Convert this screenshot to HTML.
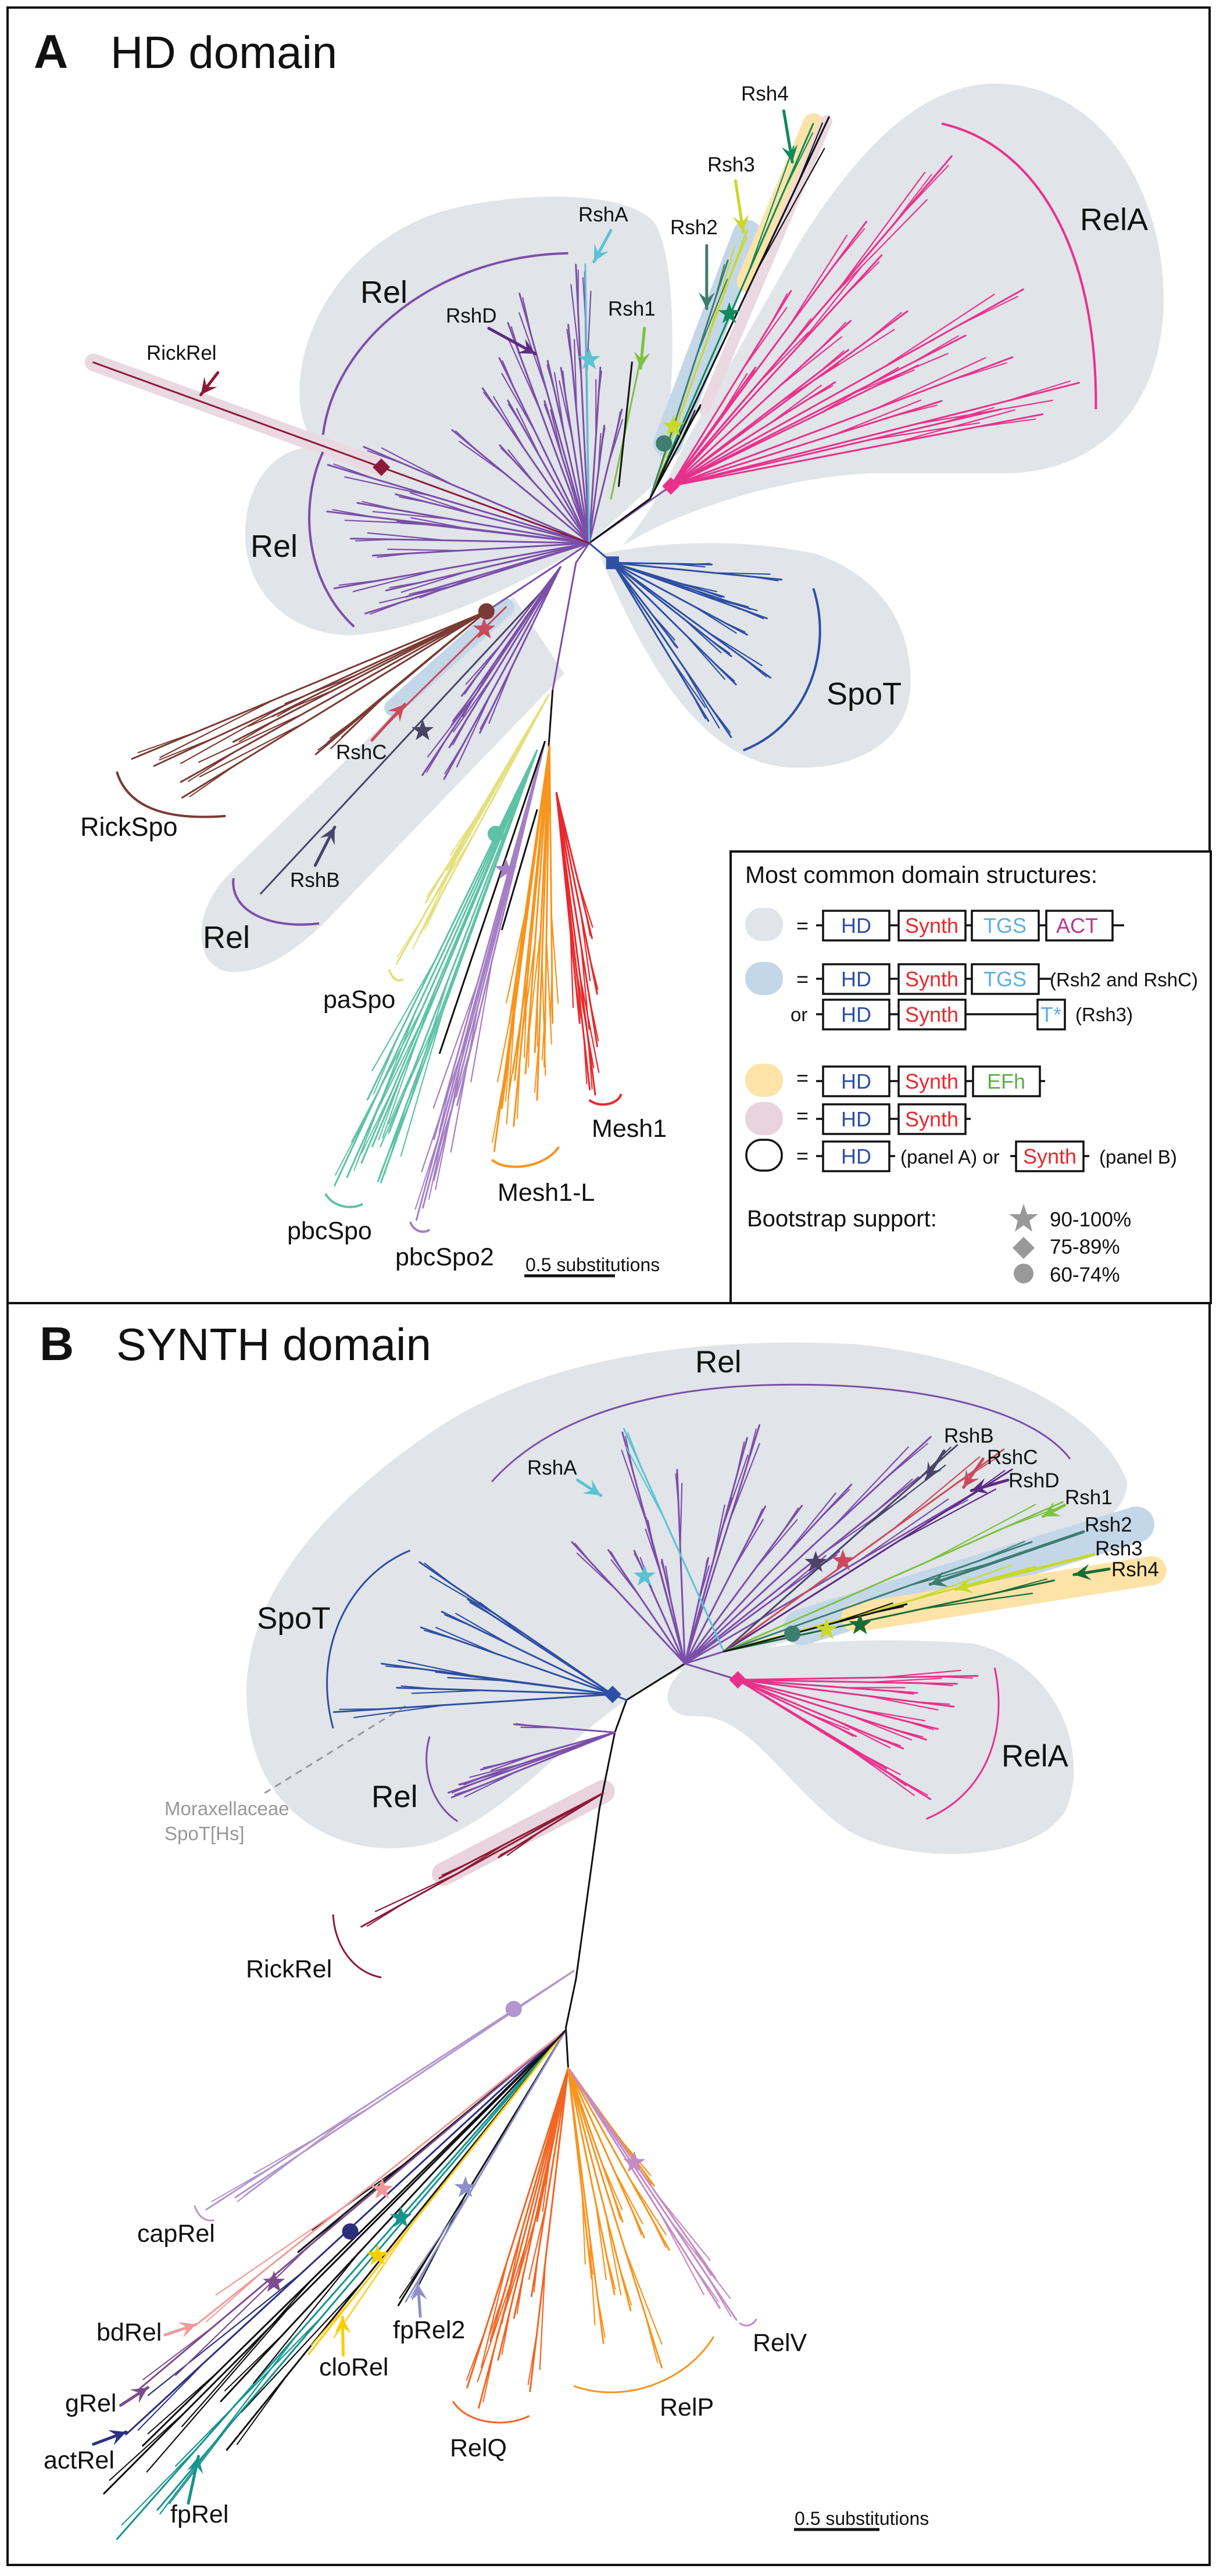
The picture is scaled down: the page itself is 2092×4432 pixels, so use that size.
<!DOCTYPE html>
<html><head><meta charset="utf-8"><title>HD and SYNTH domain trees</title>
<style>
html,body{margin:0;padding:0;background:#fff;}
svg{display:block;font-family:"Liberation Sans",Arial,sans-serif;}
</style></head>
<body>
<svg id="fig" xmlns="http://www.w3.org/2000/svg" width="2092" height="4432" viewBox="0 0 2092 4432">
<rect x="0" y="0" width="2092" height="4432" fill="#fff"/>
<!-- borders -->
<rect x="13" y="13" width="2068" height="4400" fill="none" stroke="#111" stroke-width="4"/>
<line x1="13" y1="2242" x2="2081" y2="2242" stroke="#111" stroke-width="4"/>

<!-- Panel A shaded backgrounds (zoom coordinates scaled) -->
<g transform="scale(1.339 1.467)">
  <path d="M757,637 L850,560 C870,450 870,300 840,260 C800,220 650,225 560,250 C450,285 380,380 385,470 C388,500 400,515 410,525 C360,520 318,560 315,620 C312,700 380,745 450,745 C550,740 680,680 757,637 Z" fill="#e1e4e9"/>
  <path d="M800,640 C870,600 1000,560 1120,555 L1300,555 C1420,550 1495,470 1495,350 C1495,230 1420,100 1280,98 C1180,98 1100,180 1030,280 L880,520 C850,580 820,620 800,640 Z" fill="#e1e4e9"/>
  <path d="M770,650 C850,635 950,630 1050,650 C1140,680 1170,740 1170,800 C1170,870 1100,905 1010,900 C900,890 830,780 770,650 Z" fill="#e1e4e9"/>
  <path d="M660,700 L300,1020 C240,1070 250,1140 300,1140 C350,1140 400,1100 440,1060 L725,790 Z" fill="#e1e4e9"/>
  <line x1="120" y1="425" x2="490" y2="548" stroke="#ead9e1" stroke-width="30" stroke-linecap="round" vector-effect="non-scaling-stroke"/>
  <line x1="858" y1="520" x2="960" y2="275" stroke="#c3d7e8" stroke-width="50" stroke-linecap="round" vector-effect="non-scaling-stroke"/>
  <line x1="960" y1="330" x2="1045" y2="145" stroke="#fde3a7" stroke-width="36" stroke-linecap="round" vector-effect="non-scaling-stroke"/>
  <line x1="905" y1="480" x2="1062" y2="142" stroke="#ead9e1" stroke-width="20" stroke-linecap="round" vector-effect="non-scaling-stroke"/>
  <line x1="505" y1="830" x2="650" y2="712" stroke="#c3d7e8" stroke-width="30" stroke-linecap="round" vector-effect="non-scaling-stroke"/>
  <g fill="none" stroke-width="4" vector-effect="non-scaling-stroke">
    <path d="M1210,145 C1330,170 1410,290 1408,480" stroke="#e8318a" vector-effect="non-scaling-stroke"/>
    <path d="M415,510 C430,400 560,300 730,297" stroke="#7b4fa8" vector-effect="non-scaling-stroke"/>
    <path d="M415,530 C385,590 390,680 455,735" stroke="#7b4fa8" vector-effect="non-scaling-stroke"/>
    <path d="M1045,690 C1070,760 1040,850 955,880" stroke="#2e4fa3" vector-effect="non-scaling-stroke"/>
    <path d="M150,905 C165,950 220,962 290,957" stroke="#7a3b34" vector-effect="non-scaling-stroke"/>
    <path d="M300,1030 C295,1070 350,1090 410,1083" stroke="#7b4fa8" vector-effect="non-scaling-stroke"/>
    <path d="M500,1137 C505,1150 512,1152 518,1148" stroke="#e3e07e" vector-effect="non-scaling-stroke"/>
    <path d="M418,1400 C430,1418 455,1418 466,1412" stroke="#5ec2a5" vector-effect="non-scaling-stroke"/>
    <path d="M527,1433 C532,1445 545,1447 552,1442" stroke="#a57fc3" vector-effect="non-scaling-stroke"/>
    <path d="M632,1360 C650,1375 700,1370 718,1345" stroke="#f7941d" vector-effect="non-scaling-stroke"/>
    <path d="M757,1290 C770,1300 795,1295 798,1283" stroke="#e8282c" vector-effect="non-scaling-stroke"/>
  </g>
</g>

<!-- Panel B shaded backgrounds -->
<g transform="translate(0 2250) scale(1.339 1.3916)">
  <path d="M805,485 C720,540 660,620 560,660 C460,690 330,640 318,500 C305,380 390,260 560,150 C700,60 900,35 1100,45 C1300,65 1420,140 1448,215 C1450,250 1400,290 1300,330 L950,430 C900,440 850,450 805,485 Z" fill="#e1e4e9"/>
  <path d="M880,445 C950,415 1100,405 1250,415 C1360,440 1400,550 1370,620 C1330,690 1150,690 1080,640 C1000,580 960,500 890,505 C860,505 840,480 880,445 Z" fill="#e1e4e9"/>
  <line x1="1030" y1="395" x2="1460" y2="268" stroke="#c3d7e8" stroke-width="62" stroke-linecap="round" vector-effect="non-scaling-stroke"/>
  <line x1="1100" y1="383" x2="1480" y2="325" stroke="#fde3a7" stroke-width="50" stroke-linecap="round" vector-effect="non-scaling-stroke"/>
  <line x1="570" y1="700" x2="775" y2="598" stroke="#e9d3dc" stroke-width="40" stroke-linecap="round" vector-effect="non-scaling-stroke"/>
  <line x1="340" y1="600" x2="525" y2="490" stroke="#999" stroke-width="3" stroke-dasharray="12 9" vector-effect="non-scaling-stroke"/>
  <g fill="none">
    <path d="M632,215 C720,120 880,95 1020,95 C1200,95 1330,130 1375,187" stroke="#7b4fa8" stroke-width="3" vector-effect="non-scaling-stroke"/>
    <path d="M527,300 C450,330 400,420 428,520" stroke="#2e4fa3" stroke-width="3" vector-effect="non-scaling-stroke"/>
    <path d="M552,530 C540,570 555,615 588,635" stroke="#7b4fa8" stroke-width="3" vector-effect="non-scaling-stroke"/>
    <path d="M1278,445 C1295,520 1270,600 1190,632" stroke="#e8318a" stroke-width="3" vector-effect="non-scaling-stroke"/>
    <path d="M428,750 C430,790 455,822 490,828" stroke="#8b1a3a" stroke-width="3" vector-effect="non-scaling-stroke"/>
    <path d="M250,1110 C255,1125 265,1130 275,1128" stroke="#b296cd" stroke-width="3" vector-effect="non-scaling-stroke"/>
    <path d="M582,1352 C600,1380 650,1385 680,1370" stroke="#f26522" stroke-width="3" vector-effect="non-scaling-stroke"/>
    <path d="M737,1333 C800,1355 880,1330 917,1272" stroke="#f7941d" stroke-width="3" vector-effect="non-scaling-stroke"/>
    <path d="M950,1255 C960,1262 968,1257 972,1250" stroke="#c58bc2" stroke-width="3" vector-effect="non-scaling-stroke"/>
  </g>
</g>

<g id="tree"></g>
<g id="marks"></g>

<!-- Panel A text -->
<g fill="#111">
  <text x="58" y="117" font-size="82" font-weight="bold">A</text>
  <text x="190" y="117" font-size="78">HD domain</text>
  <text x="1275" y="173" font-size="35">Rsh4</text>
  <text x="1217" y="295" font-size="35">Rsh3</text>
  <text x="1153" y="403" font-size="35">Rsh2</text>
  <text x="995" y="381" font-size="35">RshA</text>
  <text x="620" y="521" font-size="54">Rel</text>
  <text x="767" y="555" font-size="35">RshD</text>
  <text x="1046" y="543" font-size="35">Rsh1</text>
  <text x="1858" y="396" font-size="54">RelA</text>
  <text x="252" y="619" font-size="35">RickRel</text>
  <text x="431" y="958" font-size="54">Rel</text>
  <text x="1422" y="1212" font-size="54">SpoT</text>
  <text x="578" y="1306" font-size="35">RshC</text>
  <text x="138" y="1438" font-size="45">RickSpo</text>
  <text x="499" y="1526" font-size="35">RshB</text>
  <text x="349" y="1631" font-size="54">Rel</text>
  <text x="556" y="1734" font-size="43">paSpo</text>
  <text x="1018" y="1956" font-size="43">Mesh1</text>
  <text x="856" y="2066" font-size="43">Mesh1-L</text>
  <text x="494" y="2132" font-size="43">pbcSpo</text>
  <text x="680" y="2177" font-size="43">pbcSpo2</text>
  <text x="904" y="2187" font-size="32">0.5 substitutions</text>
  <line x1="902" y1="2195" x2="1058" y2="2195" stroke="#111" stroke-width="5"/>
</g>

<!-- Legend -->
<g font-size="36">
  <rect x="1257" y="1465" width="826" height="777" fill="#fff" stroke="#111" stroke-width="4"/>
  <text x="1282" y="1519" font-size="41" fill="#111">Most common domain structures:</text>
  <g stroke="#111" stroke-width="3.5" fill="#fff">
    <rect x="1282" y="1562" width="65" height="57" rx="28" fill="#e1e4e9" stroke="none"/>
    <rect x="1282" y="1655" width="65" height="57" rx="28" fill="#c3d7e8" stroke="none"/>
    <rect x="1282" y="1830" width="65" height="57" rx="28" fill="#fde3a7" stroke="none"/>
    <rect x="1282" y="1896" width="65" height="57" rx="28" fill="#e9d3dc" stroke="none"/>
    <rect x="1284" y="1961" width="61" height="53" rx="26" fill="none"/>
    <!-- row 1 -->
    <line x1="1404" y1="1592" x2="1934" y2="1592"/>
    <rect x="1416" y="1567" width="114" height="51"/>
    <rect x="1546" y="1567" width="115" height="51"/>
    <rect x="1672" y="1567" width="115" height="51"/>
    <rect x="1800" y="1567" width="114" height="51"/>
    <!-- row 2 -->
    <line x1="1404" y1="1684" x2="1808" y2="1684"/>
    <rect x="1416" y="1659" width="114" height="51"/>
    <rect x="1546" y="1659" width="115" height="51"/>
    <rect x="1672" y="1659" width="115" height="51"/>
    <!-- row or -->
    <line x1="1404" y1="1745" x2="1785" y2="1745"/>
    <rect x="1416" y="1720" width="114" height="51"/>
    <rect x="1546" y="1720" width="115" height="51"/>
    <rect x="1785" y="1720" width="47" height="51"/>
    <!-- row 3 -->
    <line x1="1404" y1="1860" x2="1798" y2="1860"/>
    <rect x="1416" y="1835" width="114" height="51"/>
    <rect x="1546" y="1835" width="115" height="51"/>
    <rect x="1674" y="1835" width="115" height="51"/>
    <!-- row 4 -->
    <line x1="1404" y1="1925" x2="1670" y2="1925"/>
    <rect x="1416" y="1900" width="114" height="51"/>
    <rect x="1546" y="1900" width="115" height="51"/>
    <!-- row 5 -->
    <line x1="1404" y1="1989" x2="1540" y2="1989"/>
    <line x1="1738" y1="1989" x2="1874" y2="1989"/>
    <rect x="1416" y="1964" width="114" height="51"/>
    <rect x="1748" y="1964" width="116" height="51"/>
  </g>
  <g font-size="36" fill="#111">
    <text x="1370" y="1605">=</text>
    <text x="1370" y="1697">=</text>
    <text x="1370" y="1867">=</text>
    <text x="1370" y="1932">=</text>
    <text x="1370" y="2001">=</text>
    <text x="1360" y="1757" font-size="33">or</text>
    <text x="1806" y="1697" font-size="33">(Rsh2 and RshC)</text>
    <text x="1850" y="1757" font-size="33">(Rsh3)</text>
    <text x="1549" y="2002" font-size="33">(panel A) or</text>
    <text x="1891" y="2002" font-size="33">(panel B)</text>
  </g>
  <g font-size="36" text-anchor="middle">
    <text x="1473" y="1605" fill="#2e4fa3">HD</text>
    <text x="1603" y="1605" fill="#e8282c">Synth</text>
    <text x="1729" y="1605" fill="#5bb0e0">TGS</text>
    <text x="1853" y="1605" fill="#b8388f">ACT</text>
    <text x="1473" y="1697" fill="#2e4fa3">HD</text>
    <text x="1603" y="1697" fill="#e8282c">Synth</text>
    <text x="1729" y="1697" fill="#5bb0e0">TGS</text>
    <text x="1473" y="1758" fill="#2e4fa3">HD</text>
    <text x="1603" y="1758" fill="#e8282c">Synth</text>
    <text x="1808" y="1758" fill="#5bb0e0">T*</text>
    <text x="1473" y="1873" fill="#2e4fa3">HD</text>
    <text x="1603" y="1873" fill="#e8282c">Synth</text>
    <text x="1731" y="1873" fill="#5ab045">EFh</text>
    <text x="1473" y="1938" fill="#2e4fa3">HD</text>
    <text x="1603" y="1938" fill="#e8282c">Synth</text>
    <text x="1473" y="2002" fill="#2e4fa3">HD</text>
    <text x="1806" y="2002" fill="#e8282c">Synth</text>
  </g>
  <text x="1285" y="2110" font-size="40" fill="#111">Bootstrap support:</text>
  <g font-size="35" fill="#111">
    <text x="1806" y="2110">90-100%</text>
    <text x="1806" y="2157">75-89%</text>
    <text x="1806" y="2205">60-74%</text>
  </g>
  <polygon points="1761,2071 1767,2089 1786,2089 1771,2100 1776,2119 1761,2108 1746,2119 1751,2100 1736,2089 1755,2089" fill="#999"/>
  <polygon points="1761,2128 1780,2147 1761,2166 1742,2147" fill="#999"/>
  <circle cx="1761" cy="2191" r="17" fill="#999"/>
</g>

<!-- Panel B text -->
<g fill="#111">
  <text x="68" y="2340" font-size="82" font-weight="bold">B</text>
  <text x="200" y="2340" font-size="78">SYNTH domain</text>
  <text x="1196" y="2361" font-size="53">Rel</text>
  <text x="907" y="2537" font-size="35">RshA</text>
  <text x="1624" y="2482" font-size="35">RshB</text>
  <text x="1698" y="2519" font-size="35">RshC</text>
  <text x="1735" y="2559" font-size="35">RshD</text>
  <text x="1832" y="2588" font-size="35">Rsh1</text>
  <text x="1866" y="2635" font-size="35">Rsh2</text>
  <text x="1884" y="2676" font-size="35">Rsh3</text>
  <text x="1912" y="2712" font-size="35">Rsh4</text>
  <text x="442" y="2802" font-size="53">SpoT</text>
  <text x="639" y="3109" font-size="53">Rel</text>
  <text x="1723" y="3039" font-size="53">RelA</text>
  <text x="283" y="3123" font-size="33" fill="#999">Moraxellaceae</text>
  <text x="283" y="3166" font-size="33" fill="#999">SpoT[Hs]</text>
  <text x="423" y="3402" font-size="43">RickRel</text>
  <text x="236" y="3857" font-size="43">capRel</text>
  <text x="166" y="4027" font-size="43">bdRel</text>
  <text x="112" y="4149" font-size="43">gRel</text>
  <text x="75" y="4247" font-size="43">actRel</text>
  <text x="293" y="4340" font-size="43">fpRel</text>
  <text x="549" y="4087" font-size="43">cloRel</text>
  <text x="676" y="4023" font-size="43">fpRel2</text>
  <text x="774" y="4226" font-size="43">RelQ</text>
  <text x="1135" y="4156" font-size="43">RelP</text>
  <text x="1295" y="4045" font-size="43">RelV</text>
  <text x="1367" y="4344" font-size="32">0.5 substitutions</text>
  <line x1="1366" y1="4352" x2="1513" y2="4352" stroke="#111" stroke-width="5"/>
</g>

<script>
// ===== Tree data: branch angles (degrees) and branch lengths (substitutions) =====
// Panel A (HD domain)
const relA_A_angles  = [-47,-47,-51,-47,-45,-34,-27,-25,-19,-13,-10,-12,-16,-56,-52,-35,-24,-40,-30];
const relA_A_lengths = [2.28,2.18,1.72,1.17,1.65,1.58,2.19,1.80,2.00,2.32,2.09,1.87,1.56,1.19,0.76,1.20,1.50,1.30,1.05];
const rsh_A_angles   = [-64.5,-62.8,-68.4,-70.3,-59.4];
const rsh_A_lengths  = [2.10,2.17,1.46,1.28,0.55];
const rsh_A_colors   = ['#0e8a5a','#111','#c9d82a','#3e7d70','#111'];
const relTop_A_angles  = [-93,-91,-107,-127,-143,-109,-86,-75,-118,-96,-100,-122,-112,-135,-82,-104];
const relTop_A_lengths = [1.41,1.37,1.32,0.98,0.95,0.76,0.89,0.70,1.06,1.11,0.90,0.85,1.20,0.70,0.60,0.95];
const relLeft_A_angles  = [-173.7,-179,170.8,164,-164.7,177,165,-158.7,-171,-174,168,-167];
const relLeft_A_lengths = [1.46,1.32,1.43,1.29,1.50,1.20,1.05,1.34,1.30,1.07,1.15,1.10];
const spoT_A_angles  = [5.2,0.9,18.2,17,33.6,53.3,56.4,35.7,50,26,15.6,42];
const spoT_A_lengths = [0.94,0.55,0.90,0.80,1.05,1.10,0.96,0.81,0.56,0.83,0.64,0.92];
const rickSpo_A_angles  = [159.2,150.8,142.6,154.8,157,153,143,155.9];
const rickSpo_A_lengths = [2.10,1.93,1.19,1.55,2.00,1.90,1.10,1.30];
const relBot_A_angles  = [121,124,127,130,118,126];
const relBot_A_lengths = [1.25,1.10,1.00,0.85,0.95,1.30];
const paSpo_A_angles  = [121.8,120.5,123,122.5];
const paSpo_A_lengths = [1.60,1.40,1.25,1.05];
const pbcSpo_A_angles  = [117,116,115,114.5,113,112,111.6,118];
const pbcSpo_A_lengths = [2.47,2.40,2.30,2.20,2.10,2.35,2.35,2.00];
const pbcSpo2_A_angles  = [106.4,106,105.5,107,104.8];
const pbcSpo2_A_lengths = [2.52,2.45,2.30,2.10,1.90];
const mesh1L_A_angles  = [98.5,95.9,92.2,98.2,91,94.6,89.3,99,96.5,93];
const mesh1L_A_lengths = [2.07,1.93,1.79,1.85,1.62,1.66,1.40,1.42,1.70,1.55];
const mesh1_A_angles  = [82,77.5,83,83.7,75,80];
const mesh1_A_lengths = [1.54,1.04,1.51,1.17,0.76,1.30];
// Panel B (SYNTH domain)
const relTop_B_angles  = [-105.7,-72,-134,-103,-74,-52.4,-41.6,-37.5,-29.6,-77,-105.5,-74,-35,-92.4,-125,-62,-46,-115];
const relTop_B_lengths = [1.35,1.41,0.95,0.60,0.99,1.12,1.92,1.72,1.93,0.61,0.85,1.32,1.10,1.09,0.78,1.00,1.40,0.70];
const rsh_B_angles  = [-115,-40.4,-34.8,-31.3,-23,-18.9,-14.7,-11.7,-14];
const rsh_B_lengths = [1.38,1.79,1.99,1.97,2.15,1.90,1.88,1.97,1.10];
const rsh_B_colors  = ['#5bc3d3','#4a4468','#c94b5c','#5c2b83','#7cc242','#3e7d70','#c9d82a','#1a6b37','#111'];
const relA_B_angles  = [-0.9,6.8,13.3,30.8,30.7,21.8,1,30,24.7,17,4];
const relA_B_lengths = [1.40,1.27,1.20,1.31,1.17,1.04,1.28,1.00,0.76,1.15,1.05];
const spoT_B_angles  = [-146.6,-172.7,176.5,-161.4,-173,-147.7,-178.3,-155];
const spoT_B_lengths = [1.35,1.36,1.63,1.18,1.04,1.00,1.26,1.10];
const relSmall_B_angles  = [159,162,-175.6,160.8,165];
const relSmall_B_lengths = [1.02,0.95,0.59,1.03,0.81];
const rickRel_B_angles  = [153.4,152,149.4];
const rickRel_B_lengths = [1.07,1.60,0.71];
const capRel_B_angles  = [148,147.2];
const capRel_B_lengths = [2.53,2.35];
const basal_B_angles  = [136,130,122.3,141.4,136.6,138.5,141,142.5,132.5,131.5,129.5,121.5,134];
const basal_B_lengths = [3.75,3.08,1.83,2.00,3.40,3.43,3.22,2.72,3.88,3.60,2.36,1.79,2.90];
const basal_B_colors  = ['#111','#111','#111','#111','#111','#2b2f7e','#7d4c8e','#f29a9a','#16938e','#16938e','#ffcc00','#8e8ec8','#111'];
const relQ_B_angles  = [108.2,105.3,97,104,101.9,102.7,106.5,99.5];
const relQ_B_lengths = [1.89,1.98,1.83,1.69,0.88,1.44,1.60,1.30];
const relP_B_angles  = [72,82.4,60,75,52.8,83.4,69.8,78,65];
const relP_B_lengths = [1.77,1.56,1.18,1.41,0.83,1.19,0.92,1.30,1.05];
const relV_B_angles  = [55.3,56.8,54];
const relV_B_lengths = [1.71,1.60,1.45];

// ===== drawing helpers =====
const NS = 'http://www.w3.org/2000/svg';
const tree = document.getElementById('tree');
const marks = document.getElementById('marks');
const TX = {A:(x,y)=>[x*1.339, y*1.467], B:(x,y)=>[x*1.339, 2250 + y*1.3916]};
const UNIT = {A:232, B:220};
function tipOf(p, o, ang, len){ const r = ang*Math.PI/180; return [o[0]+Math.cos(r)*len*UNIT[p], o[1]+Math.sin(r)*len*UNIT[p]]; }
function seg(p, a, b, color, w, name){
  const A = TX[p](a[0],a[1]); const B = TX[p](b[0],b[1]);
  const el = document.createElementNS(NS,'line');
  el.setAttribute('x1',A[0].toFixed(1)); el.setAttribute('y1',A[1].toFixed(1));
  el.setAttribute('x2',B[0].toFixed(1)); el.setAttribute('y2',B[1].toFixed(1));
  el.setAttribute('stroke',color); el.setAttribute('stroke-width',w); el.setAttribute('stroke-linecap','round');
  
  
  tree.appendChild(el);
}
function clade(p, o, angles, lengths, color, name, colors){
  angles.forEach((ang,i)=>{
    const len = lengths[i]; const c = colors ? colors[i] : color;
    const t = tipOf(p,o,ang,len);
    seg(p,o,t,c,3,name+'-branch');
    const m = tipOf(p,o,ang,len*0.6);
    seg(p,m,tipOf(p,m,ang+(i%2?4:-4),len*0.33),c,2.2,name+'-twig');
    const m2 = tipOf(p,o,ang,len*0.82);
    seg(p,m2,tipOf(p,m2,ang+(i%2?-3:3),len*0.16),c,2,name+'-twig');
  });
}
function poly(p, cx, cy, pts, color, name){
  const C = TX[p](cx,cy);
  const el = document.createElementNS(NS,'polygon');
  el.setAttribute('points', pts.map(q=>(C[0]+q[0]).toFixed(1)+','+(C[1]+q[1]).toFixed(1)).join(' '));
  el.setAttribute('fill',color);
  
  
  marks.appendChild(el);
}
function star(p,x,y,c){ const pts=[]; for(let k=0;k<10;k++){const r=k%2?8:20; const a=-Math.PI/2+k*Math.PI/5; pts.push([r*Math.cos(a),r*Math.sin(a)]);} poly(p,x,y,pts,c,'bootstrap-star-node'); }
function diamond(p,x,y,c){ poly(p,x,y,[[0,-15],[15,0],[0,15],[-15,0]],c,'bootstrap-diamond-node'); }
function square(p,x,y,c){ poly(p,x,y,[[-11,-11],[11,-11],[11,11],[-11,11]],c,'bootstrap-square-node'); }
function dot(p,x,y,c){
  const C = TX[p](x,y);
  const el = document.createElementNS(NS,'circle');
  el.setAttribute('cx',C[0]); el.setAttribute('cy',C[1]); el.setAttribute('r',14); el.setAttribute('fill',c);
  
  
  marks.appendChild(el);
}
function arrow(p, from, to, c, name){
  seg(p, from, to, c, 5, name);
  const A = TX[p](from[0],from[1]); const B = TX[p](to[0],to[1]);
  const ang = Math.atan2(B[1]-A[1], B[0]-A[0]);
  const L=28, W=14;
  const bx = B[0]-Math.cos(ang)*L, by = B[1]-Math.sin(ang)*L;
  const el = document.createElementNS(NS,'polygon');
  el.setAttribute('points', [B[0],B[1], bx-Math.sin(ang)*W, by+Math.cos(ang)*W, B[0]-Math.cos(ang)*L*0.6, B[1]-Math.sin(ang)*L*0.6, bx+Math.sin(ang)*W, by-Math.cos(ang)*W].map(v=>v.toFixed(1)).join(' '));
  el.setAttribute('fill', c);
  
  
  marks.appendChild(el);
}

// ===== Panel A =====
const cA = [757,637];
seg('A', cA, [740,660], '#7b4fa8', 3, 'trunk-a');
seg('A', [740,660], [710,810], '#7b4fa8', 3, 'trunk-a');
seg('A', [710,810], [705,875], '#111', 3, 'trunk-a');
seg('A', cA, [862,570], '#7b4fa8', 3, 'stem-rela-a');
seg('A', cA, [835,585], '#111', 3, 'stem-rsh-a');
seg('A', cA, [787,660], '#2e4fa3', 3, 'stem-spot-a');
seg('A', cA, [625,717], '#7b4fa8', 3, 'stem-rickspo-a');
clade('A', [862,570], relA_A_angles, relA_A_lengths, '#e8318a', 'rela-a');
clade('A', [835,585], rsh_A_angles, rsh_A_lengths, '#111', 'rsh-a', rsh_A_colors);
seg('A', [785,585], [822,425], '#7cc242', 3, 'rsh1-a-branch');
seg('A', [795,570], [812,425], '#111', 3, 'black-a-branch');
clade('A', cA, relTop_A_angles, relTop_A_lengths, '#7b4fa8', 'rel-top-a');
seg('A', cA, [752,310], '#5bc3d3', 3, 'rsha-a-branch');
clade('A', cA, relLeft_A_angles, relLeft_A_lengths, '#7b4fa8', 'rel-left-a');
seg('A', cA, [490,548], '#8b1a3a', 3, 'rickrel-a-branch');
seg('A', [490,548], [120,425], '#8b1a3a', 3, 'rickrel-a-branch');
clade('A', [787,660], spoT_A_angles, spoT_A_lengths, '#2e4fa3', 'spot-a');
clade('A', [625,717], rickSpo_A_angles, rickSpo_A_lengths, '#7a3b34', 'rickspo-a');
seg('A', [650,712], [480,865], '#c94b5c', 3, 'rshc-a-branch');
seg('A', [700,690], [335,1048], '#4a4468', 3, 'rshb-a-branch');
clade('A', [720,665], relBot_A_angles, relBot_A_lengths, '#7b4fa8', 'rel-bottom-a');
clade('A', [705,815], paSpo_A_angles, paSpo_A_lengths, '#e3e07e', 'paspo-a');
clade('A', [690,880], pbcSpo_A_angles, pbcSpo_A_lengths, '#5ec2a5', 'pbcspo-a');
clade('A', [700,870], pbcSpo2_A_angles, pbcSpo2_A_lengths, '#a57fc3', 'pbcspo2-a');
seg('A', [700,870], [565,1235], '#111', 3, 'black-a-branch');
seg('A', [690,950], [645,1090], '#111', 3, 'black-a-branch');
clade('A', [706,875], mesh1L_A_angles, mesh1L_A_lengths, '#f7941d', 'mesh1l-a');
clade('A', [715,930], mesh1_A_angles, mesh1_A_lengths, '#e8282c', 'mesh1-a');
arrow('A', [1007,130], [1018,190], '#0e8a5a', 'arrow-rsh4-a');
arrow('A', [945,212], [955,272], '#c9d82a', 'arrow-rsh3-a');
arrow('A', [908,288], [908,362], '#3e7d70', 'arrow-rsh2-a');
arrow('A', [785,270], [763,307], '#5bc3d3', 'arrow-rsha-a');
arrow('A', [628,385], [688,415], '#5c2b83', 'arrow-rshd-a');
arrow('A', [828,385], [823,432], '#7cc242', 'arrow-rsh1-a');
arrow('A', [280,437], [258,463], '#8b1a3a', 'arrow-rickrel-a');
arrow('A', [478,868], [520,826], '#c94b5c', 'arrow-rshc-a');
arrow('A', [405,1015], [430,970], '#4a4468', 'arrow-rshb-a');
diamond('A',490,548,'#8b1a3a'); star('A',757,422,'#5bc3d3'); star('A',865,500,'#c9d82a');
dot('A',853,520,'#3e7d70'); star('A',937,368,'#0e8a5a'); diamond('A',862,570,'#e8318a');
square('A',787,660,'#2e4fa3'); dot('A',625,717,'#7a3b34'); star('A',622,738,'#c94b5c');
star('A',543,857,'#4a4468'); dot('A',637,978,'#5ec2a5'); star('A',650,1020,'#a57fc3');

// ===== Panel B =====
const cB = [880,440];
seg('B', cB, [805,485], '#111', 3, 'trunk-b');
seg('B', [805,485], [790,525], '#111', 3, 'trunk-b');
seg('B', [790,525], [770,620], '#111', 3, 'trunk-b');
seg('B', [770,620], [740,830], '#111', 3, 'trunk-b');
seg('B', [740,830], [727,890], '#111', 3, 'trunk-b');
seg('B', [727,890], [730,940], '#111', 3, 'trunk-b');
seg('B', cB, [948,460], '#7b4fa8', 3, 'stem-rela-b');
seg('B', cB, [930,425], '#7b4fa8', 3, 'stem-rsh-b');
seg('B', [805,485], [787,478], '#2e4fa3', 3, 'stem-spot-b');
clade('B', cB, relTop_B_angles, relTop_B_lengths, '#7b4fa8', 'rel-top-b');
clade('B', [930,425], rsh_B_angles, rsh_B_lengths, '#111', 'rsh-b', rsh_B_colors);
clade('B', [948,460], relA_B_angles, relA_B_lengths, '#e8318a', 'rela-b');
clade('B', [787,478], spoT_B_angles, spoT_B_lengths, '#2e4fa3', 'spot-b');
clade('B', [790,525], relSmall_B_angles, relSmall_B_lengths, '#7b4fa8', 'rel-small-b');
clade('B', [775,600], rickRel_B_angles, rickRel_B_lengths, '#8b1a3a', 'rickrel-b');
clade('B', [737,820], capRel_B_angles, capRel_B_lengths, '#b296cd', 'caprel-b');
clade('B', [727,893], basal_B_angles, basal_B_lengths, '#111', 'basal-b', basal_B_colors);
clade('B', [730,940], relQ_B_angles, relQ_B_lengths, '#f26522', 'relq-b');
clade('B', [730,940], relP_B_angles, relP_B_lengths, '#f7941d', 'relp-b');
clade('B', [732,942], relV_B_angles, relV_B_lengths, '#c58bc2', 'relv-b');
arrow('B', [742,213], [772,232], '#5bc3d3', 'arrow-rsha-b');
arrow('B', [1213,177], [1190,212], '#4a4468', 'arrow-rshb-b');
arrow('B', [1263,187], [1238,222], '#c94b5c', 'arrow-rshc-b');
arrow('B', [1295,213], [1248,226], '#5c2b83', 'arrow-rshd-b');
arrow('B', [1368,244], [1340,258], '#7cc242', 'arrow-rsh1-b');
arrow('B', [1392,277], [1195,342], '#3e7d70', 'arrow-rsh2-b');
arrow('B', [1405,305], [1228,348], '#c9d82a', 'arrow-rsh3-b');
arrow('B', [1425,323], [1380,330], '#1a6b37', 'arrow-rsh4-b');
arrow('B', [212,1270], [252,1257], '#f29a9a', 'arrow-bdrel');
arrow('B', [155,1357], [190,1335], '#7d4c8e', 'arrow-grel');
arrow('B', [120,1405], [162,1390], '#2b2f7e', 'arrow-actrel');
arrow('B', [242,1478], [255,1420], '#16938e', 'arrow-fprel');
arrow('B', [441,1295], [440,1248], '#ffcc00', 'arrow-clorel');
arrow('B', [540,1247], [537,1207], '#8e8ec8', 'arrow-fprel2');
diamond('B',787,478,'#2e4fa3'); star('B',828,332,'#5bc3d3'); star('B',1048,315,'#4a4468');
star('B',1083,313,'#c94b5c'); dot('B',1018,403,'#3e7d70'); star('B',1062,398,'#c9d82a');
star('B',1105,392,'#1a6b37'); diamond('B',948,460,'#e8318a'); dot('B',660,867,'#b296cd');
star('B',491,1090,'#f29a9a'); dot('B',450,1142,'#2b2f7e'); star('B',515,1125,'#16938e');
star('B',598,1088,'#8e8ec8'); star('B',485,1172,'#ffcc00'); star('B',352,1205,'#7d4c8e');
star('B',815,1057,'#c58bc2');
</script>
</svg>
</body></html>
